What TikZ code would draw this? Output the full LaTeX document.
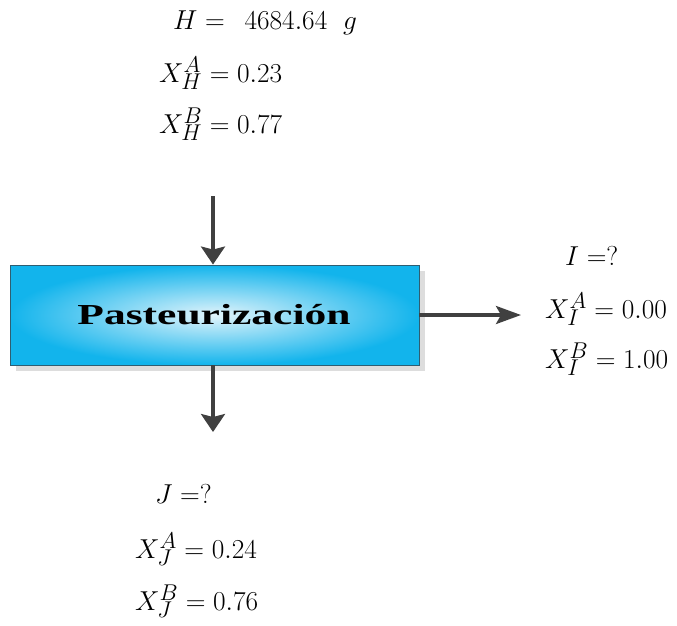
\documentclass[tikz,border=0pt]{standalone}
\usepackage{fontspec}
\usetikzlibrary{arrows.meta,shadings}
\newfontfamily\tnr{Liberation Serif}
\newcommand{\eqtxt}[1]{\scalebox{1.1}{$#1$}}
\definecolor{arrowgray}{HTML}{404040}
\definecolor{boxedge}{HTML}{2E5E72}
\definecolor{cyanout}{HTML}{12B4EC}
\definecolor{cyanin}{HTML}{E2F4FB}
\definecolor{shadowgray}{HTML}{DDDDDD}
\begin{document}
\begin{tikzpicture}[x=1pt,y=-1pt,
  lbl/.style={anchor=base west,inner sep=0pt,font=\Huge},
  vflow/.style={draw=arrowgray,line width=3.3pt,-{Stealth[length=18pt,width=24pt,inset=3pt]}},
  hflow/.style={draw=arrowgray,line width=3.3pt,-{Stealth[length=25pt,width=18pt,inset=5pt]}},
  procbox/.style={draw=boxedge,line width=0.9pt,inner color=cyanin,outer color=cyanout,
    minimum width=409pt,minimum height=100pt,inner sep=0pt}]
\useasboundingbox (0,0) rectangle (677,625);
% shadow
\fill[shadowgray] (16,271) rectangle (425,371);
\node[procbox] (b) at (214.5,315) {};
\node[anchor=base,inner sep=0pt] (bl) at (214,324)
  {\scalebox{1.5}[1]{\tnr\bfseries\fontsize{29}{32}\selectfont Pasteurización}};
% input H
\node[lbl] (h1) at (173,29) {\eqtxt{H =\;\, 4684.64\ \; g}};
\node[lbl] (h2) at (159,82) {\eqtxt{X_H^A = 0.23}};
\node[lbl] (h3) at (159,133) {\eqtxt{X_H^B = 0.77}};
% output I
\node[lbl] (i1) at (565,265) {\eqtxt{I =?}};
\node[lbl] (i2) at (545,318) {\eqtxt{X_I^A = 0.00}};
\node[lbl] (i3) at (545,368) {\eqtxt{X_I^B = 1.00}};
% output J
\node[lbl] (j1) at (155,503) {\eqtxt{J =?}};
\node[lbl] (j2) at (135,558) {\eqtxt{X_J^A = 0.24}};
\node[lbl] (j3) at (135,610) {\eqtxt{X_J^B = 0.76}};
% connectors
\coordinate (top) at (213,196);
\coordinate (rightend) at (521,315);
\coordinate (botend) at (213,432);
\draw[vflow] (top) -- (top |- b.north);
\draw[hflow] (b.east) -- (rightend);
\draw[vflow] (botend |- b.south) -- (botend);
\end{tikzpicture}
\end{document}
